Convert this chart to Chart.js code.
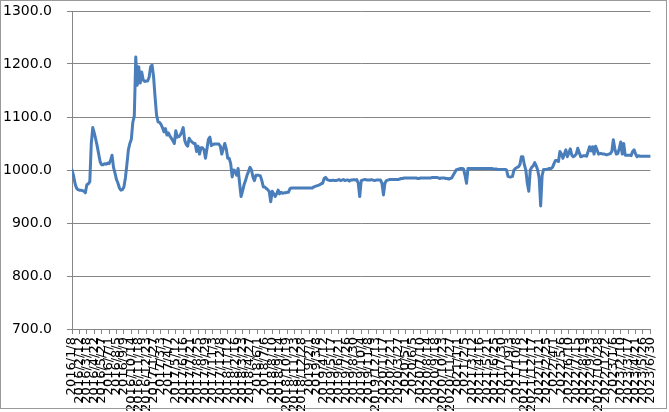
<!DOCTYPE html>
<html><head><meta charset="utf-8">
<script src="https://cdn.jsdelivr.net/npm/chart.js@4/dist/chart.umd.min.js"></script>
<style>html,body{margin:0;padding:0;background:#fff}#wrap{width:669px;height:412px;position:relative}</style>
</head><body><div id="wrap"><canvas id="c" width="669" height="412"></canvas></div>
<script>
// Weekly series from 2016/1/8 to 2023/6/30
const startDate = [2016, 1, 8];
const labelEvery = 5;
const yTicks = [700, 800, 900, 1000, 1100, 1200, 1300];
const values = [
1000,990,975,966,963,962,962,961,960,957,
972,974,978,1050,1080,1070,1058,1045,1030,1015,
1010,1010,1012,1011,1013,1012,1018,1028,1005,994,
982,975,966,962,963,968,985,1010,1038,1050,
1058,1090,1102,1213,1160,1195,1164,1185,1170,1167,
1168,1168,1175,1195,1198,1176,1138,1104,1091,1090,
1086,1080,1072,1078,1066,1070,1064,1060,1055,1050,
1074,1062,1063,1066,1072,1080,1056,1048,1045,1060,
1055,1053,1050,1050,1035,1045,1030,1042,1042,1038,
1022,1040,1058,1062,1046,1048,1049,1049,1049,1049,
1045,1030,1040,1050,1040,1022,1022,1012,987,1000,
998,990,1003,975,950,960,972,980,990,997,
1005,1000,987,980,990,990,990,989,980,968,
968,965,963,959,940,960,955,950,955,962,
955,958,956,957,957,958,958,965,966,966,
966,966,966,966,966,966,966,966,966,966,
966,966,966,968,969,970,971,972,974,975,
984,986,982,981,980,980,981,980,980,981,
982,980,981,982,980,981,981,979,981,981,
982,981,982,975,950,980,981,982,982,981,
981,981,982,981,980,981,981,981,981,975,
953,975,980,981,982,982,982,982,982,982,
982,983,984,984,985,985,985,985,985,985,
985,985,985,984,984,985,985,985,985,985,
985,985,985,986,986,986,986,985,984,985,
985,985,984,984,983,984,985,990,995,1000,
1001,1002,1003,1003,1002,990,975,1003,1003,1003,
1003,1003,1003,1003,1003,1003,1003,1003,1003,1003,
1003,1003,1003,1003,1002,1002,1002,1001,1001,1001,
1001,1001,1001,1000,988,987,987,988,1000,1003,
1005,1006,1010,1025,1025,1010,1000,975,960,1000,
1005,1008,1014,1008,1000,985,932,990,1001,1001,
1001,1002,1003,1003,1005,1012,1018,1018,1016,1035,
1030,1022,1030,1038,1025,1032,1040,1028,1025,1027,
1030,1041,1033,1025,1026,1027,1027,1026,1035,1044,
1036,1044,1030,1045,1038,1030,1031,1031,1030,1030,
1029,1029,1030,1031,1035,1057,1040,1030,1031,1040,
1053,1030,1050,1028,1028,1028,1028,1027,1035,1038,
1030,1025,1027,1026,1026,1026,1026,1026,1026,1026,
1026
];

const categories = values.map((v, i) => {
  const d = new Date(Date.UTC(startDate[0], startDate[1] - 1, startDate[2] + 7 * i));
  return d.getUTCFullYear() + '/' + (d.getUTCMonth() + 1) + '/' + d.getUTCDate();
});
const points = values.map((v, i) => ({ x: i, y: v }));

const borderPlugin = {
  id: 'outerBorder',
  afterDraw(chart) {
    const ctx = chart.ctx;
    ctx.save();
    ctx.strokeStyle = '#9a9a9a';
    ctx.lineWidth = 1;
    ctx.strokeRect(0.5, 0.5, 666, 408);
    ctx.restore();
  }
};

new Chart(document.getElementById('c'), {
  type: 'line',
  data: { datasets: [{ data: points, borderColor: '#4a7ebb', borderWidth: 3, pointRadius: 0,
    tension: 0, borderJoinStyle: 'round', borderCapStyle: 'round', fill: false }] },
  options: {
    responsive: false, animation: false,
    layout: { padding: { left: 0, top: 11, right: 12, bottom: 0 } },
    plugins: { legend: { display: false }, tooltip: { enabled: false } },
    scales: {
      x: {
        type: 'linear', min: 0, max: values.length - 1,
        afterFit(s) { s.height = 83; },
        grid: { drawOnChartArea: false, drawTicks: true, tickLength: 5, color: '#868686', tickColor: '#868686' },
        border: { display: true, color: '#868686', width: 1 },
        ticks: {
          stepSize: labelEvery, autoSkip: false, maxRotation: 90, minRotation: 90, padding: 3,
          color: '#000', font: { family: 'DejaVu Sans', size: 13 },
          callback: (v) => categories[v] ?? ''
        }
      },
      y: {
        min: yTicks[0], max: yTicks[yTicks.length - 1],
        afterFit(s) { s.width = 72; s.paddingTop = 0; s.paddingBottom = 0; },
        grid: { color: '#868686', lineWidth: 1, drawTicks: true, tickLength: 5, tickColor: '#868686' },
        border: { display: true, color: '#868686', width: 1 },
        ticks: {
          stepSize: 100, padding: 15, color: '#000',
          font: { family: 'DejaVu Sans', size: 14 },
          callback: (v) => Number(v).toFixed(1)
        }
      }
    }
  },
  plugins: [borderPlugin]
});
</script></body></html>
